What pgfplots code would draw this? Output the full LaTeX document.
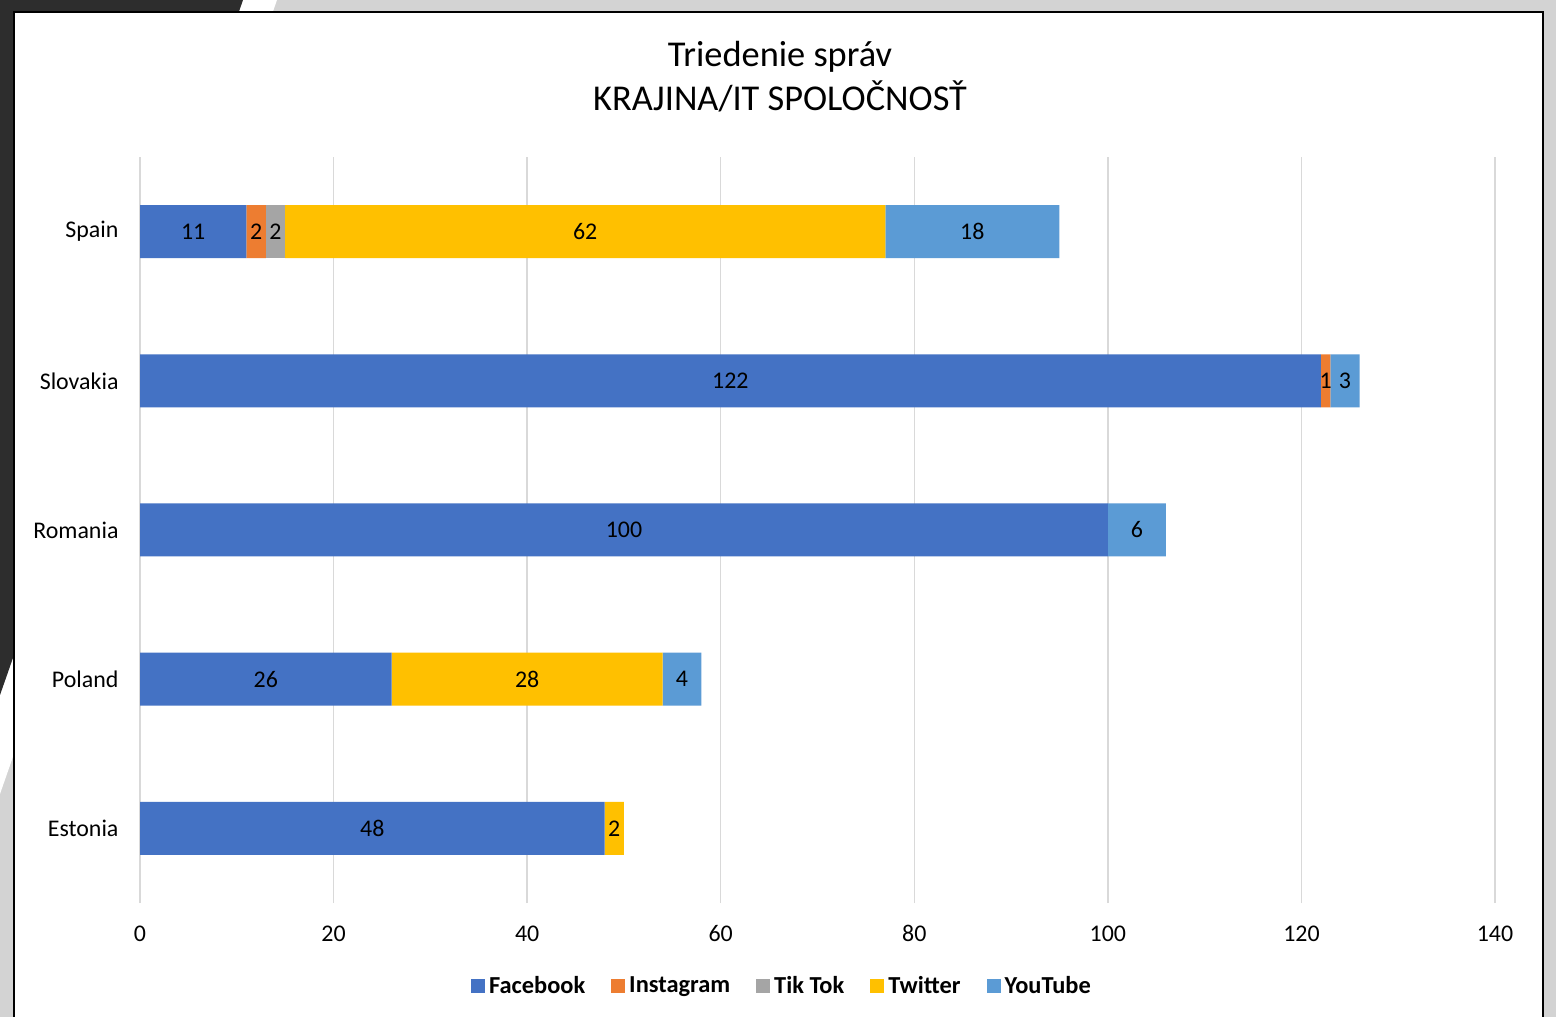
\documentclass[border=0pt]{standalone}
\usepackage{pgfplots}
\pgfplotsset{compat=1.18}
\usepackage{fontspec}
\setmainfont{Carlito}

\definecolor{fbblue}{HTML}{4472C4}
\definecolor{igorange}{HTML}{ED7D31}
\definecolor{ttgray}{HTML}{A5A5A5}
\definecolor{twyellow}{HTML}{FFC000}
\definecolor{ytblue}{HTML}{5B9BD5}
\definecolor{gridgray}{HTML}{D9D9D9}
\definecolor{slidedark}{HTML}{2D2D2D}
\definecolor{slidegray}{HTML}{D3D3D3}

\newcommand{\lbl}{\fontsize{24}{29}\selectfont}

\begin{document}
\begin{tikzpicture}
\useasboundingbox (0bp,0bp) rectangle (1556bp,1017bp);
% slide background
\fill[slidegray] (0bp,0bp) rectangle (1556bp,1017bp);
\fill[white] (243bp,1017bp) -- (277bp,1017bp) -- (0bp,223bp) -- (0bp,322bp) -- cycle;
\fill[slidedark] (0bp,1017bp) -- (243bp,1017bp) -- (0bp,322bp) -- cycle;
% chart box
\draw[fill=white, draw=black, line width=2bp] (14bp,-10bp) rectangle (1543bp,1005bp);
% title
\node[align=center, font=\fontsize{36.5}{44}\selectfont] at (780bp,940bp)
  {Triedenie správ\\KRAJINA/IT SPOLOČNOSŤ};

\begin{axis}[
at={(140bp,114bp)}, anchor=south west,
scale only axis,
width=1355bp, height=746bp,
xbar stacked,
bar width=53bp,
xmin=0, xmax=140,
ymin=-0.5, ymax=4.5,
xtick={0,20,40,60,80,100,120,140},
ytick={0,1,2,3,4},
yticklabels={Estonia,Poland,Romania,Slovakia,Spain},
xmajorgrids,
major grid style={color=gridgray, line width=1.5bp},
axis line style={draw=none},
major tick length=0pt,
tick label style={font=\lbl},
/pgf/number format/assume math mode=true,
xticklabel style={yshift=-19bp},
yticklabel style={xshift=-18bp},
point meta=explicit symbolic,
nodes near coords,
every node near coord/.append style={font=\lbl, color=black, anchor=center},
legend columns=5,
legend style={draw=none, fill=none, at={(0.4745,-0.111)}, anchor=center,
  font=\fontsize{24.5}{29}\selectfont\bfseries,
  /tikz/every even column/.append style={column sep=22bp},
  nodes={inner xsep=4bp}},
legend image code/.code={\fill[#1] (0bp,-7bp) rectangle (14bp,7bp);},
]
\addplot [fill=fbblue, draw=none] coordinates {
(48,0) [48] (26,1) [26] (100,2) [100] (122,3) [122] (11,4) [11]};
\addplot [fill=igorange, draw=none] coordinates {
(0,0) [] (0,1) [] (0,2) [] (1,3) [1] (2,4) [2]};
\addplot [fill=ttgray, draw=none] coordinates {
(0,0) [] (0,1) [] (0,2) [] (0,3) [] (2,4) [2]};
\addplot [fill=twyellow, draw=none] coordinates {
(2,0) [2] (28,1) [28] (0,2) [] (0,3) [] (62,4) [62]};
\addplot [fill=ytblue, draw=none] coordinates {
(0,0) [] (4,1) [4] (6,2) [6] (3,3) [3] (18,4) [18]};
\legend{Facebook,Instagram,Tik Tok,Twitter,YouTube}
\end{axis}
\end{tikzpicture}
\end{document}
